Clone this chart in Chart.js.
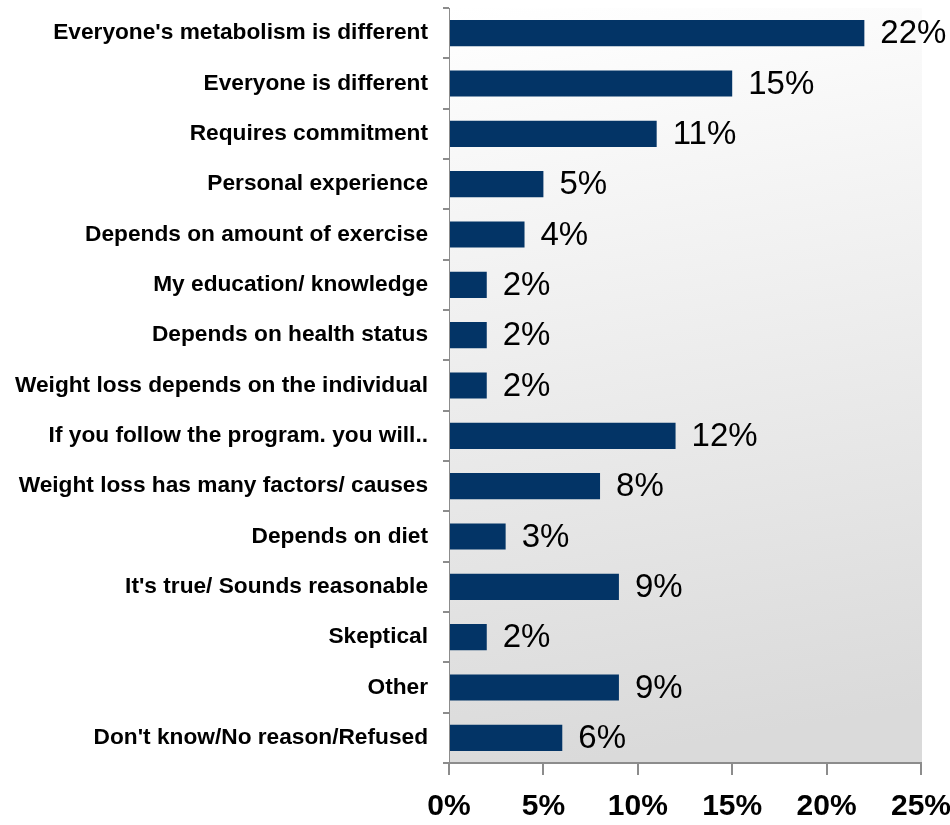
<!DOCTYPE html>
<html>
<head>
<meta charset="utf-8">
<script src="https://cdn.jsdelivr.net/npm/chart.js@4.4.1/dist/chart.umd.min.js"></script>
<style>
  html, body { margin: 0; padding: 0; background: #fff; }
  #wrap { width: 950px; height: 825px; }
</style>
</head>
<body>
<div id="wrap"><canvas id="reasonsChart" width="950" height="825"></canvas></div>
<script>
const reasons = [
    "Everyone's metabolism is different",
    "Everyone is different",
    "Requires commitment",
    "Personal experience",
    "Depends on amount of exercise",
    "My education/ knowledge",
    "Depends on health status",
    "Weight loss depends on the individual",
    "If you follow the program. you will..",
    "Weight loss has many factors/ causes",
    "Depends on diet",
    "It's true/ Sounds reasonable",
    "Skeptical",
    "Other",
    "Don't know/No reason/Refused"
];
const percents = [22, 15, 11, 5, 4, 2, 2, 2, 12, 8, 3, 9, 2, 9, 6];
const axisTicks = [0, 5, 10, 15, 20, 25];

const BAR_COLOR = "#033466";
const AXIS_COLOR = "#8c8c8c";
const FONT = "'Liberation Sans', Arial, sans-serif";

// grey-to-white fill behind the bars
const plotBackground = {
    id: "plotBackground",
    beforeDraw(chart) {
        const { ctx, chartArea: a } = chart;
        const g = ctx.createLinearGradient(a.left, a.top, a.left + 120, a.bottom);
        g.addColorStop(0, "#ffffff");
        g.addColorStop(1, "#dadada");
        ctx.save();
        ctx.fillStyle = g;
        ctx.fillRect(a.left, a.top, a.right - a.left + 1, a.bottom - a.top);
        ctx.restore();
    }
};

// percent label to the right of each bar
const valueLabels = {
    id: "valueLabels",
    afterDatasetsDraw(chart) {
        const { ctx } = chart;
        const meta = chart.getDatasetMeta(0);
        ctx.save();
        ctx.font = "33px " + FONT;
        ctx.fillStyle = "#000";
        ctx.textBaseline = "middle";
        ctx.textAlign = "left";
        meta.data.forEach((bar, i) => {
            ctx.fillText(percents[i] + "%", bar.x + 16, bar.y + 1);
        });
        ctx.restore();
    }
};

new Chart(document.getElementById("reasonsChart"), {
    type: "bar",
    data: {
        labels: reasons,
        datasets: [{
            data: percents,
            backgroundColor: BAR_COLOR,
            borderWidth: 0,
            barPercentage: 0.52,
            categoryPercentage: 1
        }]
    },
    options: {
        indexAxis: "y",
        responsive: false,
        animation: false,
        layout: { padding: { top: 8, right: 29, left: 0, bottom: 0 } },
        plugins: {
            legend: { display: false },
            tooltip: { enabled: false }
        },
        scales: {
            x: {
                min: 0,
                max: 25,
                afterBuildTicks(scale) {
                    scale.ticks = axisTicks.map(v => ({ value: v }));
                },
                afterFit(scale) {
                    scale.height = 62;
                    scale.paddingLeft = 0;
                    scale.paddingRight = 0;
                },
                grid: {
                    drawOnChartArea: false,
                    drawTicks: true,
                    tickLength: 12,
                    color: AXIS_COLOR,
                    lineWidth: 2
                },
                border: { color: AXIS_COLOR, width: 2 },
                ticks: {
                    padding: 14,
                    color: "#000",
                    font: { family: FONT, size: 30, weight: "bold" },
                    callback: v => v + "%"
                }
            },
            y: {
                afterFit(scale) {
                    scale.width = 449;
                    scale.paddingTop = 0;
                    scale.paddingBottom = 0;
                },
                grid: {
                    offset: true,
                    drawOnChartArea: false,
                    tickLength: 6,
                    color: AXIS_COLOR,
                    lineWidth: 2
                },
                border: { color: AXIS_COLOR, width: 1 },
                ticks: {
                    padding: 15,
                    color: "#000",
                    font: { family: FONT, size: 22.7, weight: "bold" }
                }
            }
        }
    },
    plugins: [plotBackground, valueLabels]
});
</script>
</body>
</html>
